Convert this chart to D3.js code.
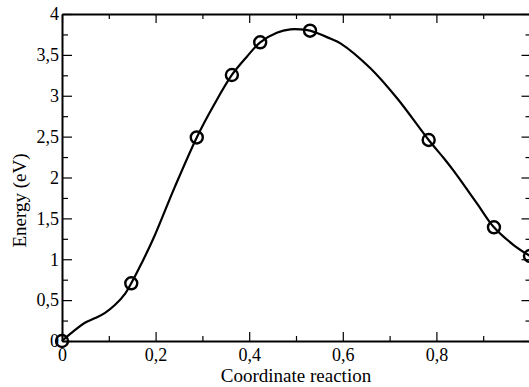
<!DOCTYPE html>
<html>
<head>
<meta charset="utf-8">
<script src="https://cdn.jsdelivr.net/npm/d3@7"></script>
<style>
  html, body { margin: 0; padding: 0; background: #fff; }
  svg { display: block; }
  text { font-family: "Liberation Serif", "Times New Roman", serif; fill: #000; }
</style>
</head>
<body>
<svg id="chart" width="529" height="387"></svg>
<script>
// Circle markers (images)
const pointX = [0, 0.148, 0.288, 0.363, 0.4235, 0.530, 0.7835, 0.923, 1.0];
const pointY = [0, 0.706, 2.49, 3.254, 3.654, 3.796, 2.459, 1.391, 1.04];

// Smooth energy profile
const lineX = [0, 0.028, 0.049, 0.071, 0.092, 0.113, 0.135, 0.148, 0.170, 0.195, 0.240, 0.288,
               0.324, 0.363, 0.395, 0.4235, 0.459, 0.488, 0.509, 0.530, 0.573, 0.595, 0.659,
               0.716, 0.7835, 0.816, 0.837, 0.887, 0.923, 0.965, 1.0];
const lineY = [0, 0.135, 0.224, 0.28, 0.345, 0.44, 0.58, 0.706, 0.95, 1.25, 1.87, 2.49,
               2.88, 3.254, 3.478, 3.654, 3.771, 3.813, 3.813, 3.796, 3.70, 3.641, 3.336,
               2.969, 2.459, 2.235, 2.08, 1.68, 1.391, 1.174, 1.04];

const xMajor = [0, 0.2, 0.4, 0.6, 0.8, 1.0];
const xMinor = [0.1, 0.3, 0.5, 0.7, 0.9];
const xLabelTicks = [0, 0.2, 0.4, 0.6, 0.8];
const yMajor = [0, 0.5, 1, 1.5, 2, 2.5, 3, 3.5, 4];
const yMinor = [0.25, 0.75, 1.25, 1.75, 2.25, 2.75, 3.25, 3.75];

const xTitle = "Coordinate reaction";
const yTitle = "Energy (eV)";

const svg = d3.select("#chart");
svg.append("rect").attr("width", 529).attr("height", 387).attr("fill", "#fff");

const L = 62, R = 530, T = 14, B = 341;
const x = d3.scaleLinear().domain([0, 1]).range([L, R]);
const y = d3.scaleLinear().domain([0, 4]).range([B, T]);
const fmt = d => String(+d.toFixed(2)).replace(".", ",");

function styleAxis(g, width) {
  g.select(".domain").attr("stroke", "#000").attr("stroke-width", width);
  g.selectAll(".tick line").attr("stroke", "#000").attr("stroke-width", 1.2);
  g.selectAll(".tick text").attr("font-size", 18).attr("font-family", "Liberation Serif");
}
function minor(g) {
  g.select(".domain").remove();
  g.selectAll("line").attr("stroke", "#000").attr("stroke-width", 1.2);
}

// Bottom axis
const gb = svg.append("g").attr("transform", `translate(0,${B})`)
  .call(d3.axisBottom(x).tickValues(xLabelTicks).tickSizeInner(-9).tickSizeOuter(0)
        .tickPadding(16).tickFormat(fmt));
styleAxis(gb, 2);
gb.selectAll(".tick text").attr("dy", "0.71em").attr("y", 7);
svg.append("g").attr("transform", `translate(0,${B})`)
  .call(d3.axisBottom(x).tickValues(xMinor).tickSizeInner(-5).tickSizeOuter(0).tickFormat(""))
  .call(minor);

// Top axis
const gt = svg.append("g").attr("transform", `translate(0,${T})`)
  .call(d3.axisTop(x).tickValues(xMajor).tickSizeInner(-9).tickSizeOuter(0).tickFormat(""));
styleAxis(gt, 2);
svg.append("g").attr("transform", `translate(0,${T})`)
  .call(d3.axisTop(x).tickValues(xMinor).tickSizeInner(-5).tickSizeOuter(0).tickFormat(""))
  .call(minor);

// Left axis
const gl = svg.append("g").attr("transform", `translate(${L},0)`)
  .call(d3.axisLeft(y).tickValues(yMajor).tickSizeInner(-10).tickSizeOuter(0)
        .tickPadding(3).tickFormat(fmt));
styleAxis(gl, 2);
svg.append("g").attr("transform", `translate(${L},0)`)
  .call(d3.axisLeft(y).tickValues(yMinor).tickSizeInner(-6).tickSizeOuter(0).tickFormat(""))
  .call(minor);

// Right axis (frame edge lies just outside the visible window)
const gr = svg.append("g").attr("transform", `translate(${R + 1.5},0)`)
  .call(d3.axisRight(y).tickValues(yMajor).tickSizeInner(-10).tickSizeOuter(0).tickFormat(""));
styleAxis(gr, 2);
svg.append("g").attr("transform", `translate(${R + 1.5},0)`)
  .call(d3.axisRight(y).tickValues(yMinor).tickSizeInner(-6).tickSizeOuter(0).tickFormat(""))
  .call(minor);

// Curve
const lineData = lineX.map((v, i) => [v, lineY[i]]);
svg.append("path")
  .datum(lineData)
  .attr("fill", "none")
  .attr("stroke", "#000")
  .attr("stroke-width", 2.2)
  .attr("d", d3.line().x(d => x(d[0])).y(d => y(d[1])).curve(d3.curveCatmullRom.alpha(0.5)));

// Markers
const pts = pointX.map((v, i) => [v, pointY[i]]);
svg.append("g").selectAll("circle").data(pts).join("circle")
  .attr("cx", d => x(d[0]))
  .attr("cy", d => y(d[1]))
  .attr("r", 6)
  .attr("fill", "none")
  .attr("stroke", "#000")
  .attr("stroke-width", 2.4);

// Axis titles
svg.append("text")
  .attr("x", (L + R) / 2).attr("y", 382)
  .attr("text-anchor", "middle")
  .attr("font-size", 19)
  .text(xTitle);
svg.append("text")
  .attr("transform", `translate(26,${(T + B) / 2 + 23}) rotate(-90)`)
  .attr("text-anchor", "middle")
  .attr("font-size", 19)
  .text(yTitle);
</script>
</body>
</html>
